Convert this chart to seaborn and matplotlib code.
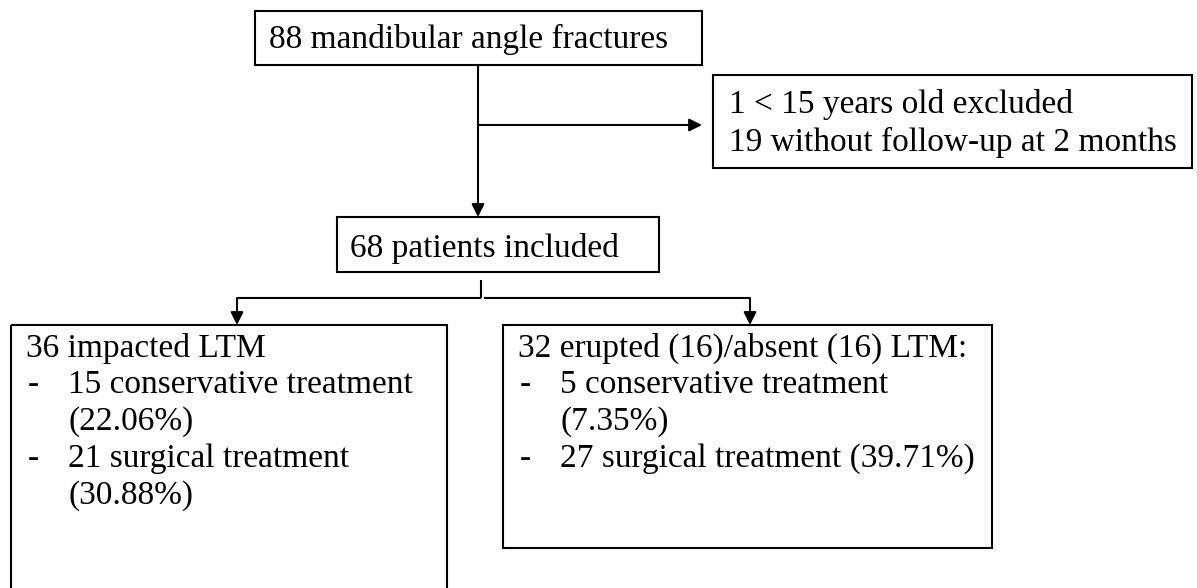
import numpy as np
import matplotlib.pyplot as plt
import seaborn as sns
from matplotlib.patches import Rectangle

# Flowchart content
top_label = "88 mandibular angle fractures"
excluded_lines = ["1 < 15 years old excluded", "19 without follow-up at 2 months"]
included_label = "68 patients included"
impacted_head = "36 impacted LTM"
impacted_items = [("-", "15 conservative treatment"),
                  ("", "(22.06%)"),
                  ("-", "21 surgical treatment"),
                  ("", "(30.88%)")]
erupted_head = "32 erupted (16)/absent (16) LTM:"
erupted_items = [("-", "5 conservative treatment"),
                 ("", "(7.35%)"),
                 ("-", "27 surgical treatment (39.71%)")]

sns.set_theme(style="white")
plt.rcParams['font.family'] = ['Liberation Serif', 'DejaVu Serif']
plt.rcParams['text.color'] = 'black'

fig = plt.figure(figsize=(11.97, 5.88), dpi=100)
ax = fig.add_axes([0, 0, 1, 1])
ax.set_xlim(0, 1197)
ax.set_ylim(588, 0)
ax.axis('off')

LW = 1.5
FS = 24
LINE_H = 37


def box(x0, y0, x1, y1):
    ax.add_patch(Rectangle((x0, y0), x1 - x0, y1 - y0, fill=False,
                           edgecolor='black', linewidth=LW))


def write(lines, x, y, step=LINE_H):
    for i, t in enumerate(lines):
        ax.text(x, y + i * step, t, fontsize=FS, ha='left', va='center',
                color='black')


def write_list(head, items, x, x_text, y):
    write([head], x, y)
    for i, (dash, t) in enumerate(items):
        yy = y + (i + 1) * LINE_H
        if dash:
            ax.text(x + 2, yy, dash, fontsize=FS, ha='left', va='center',
                    color='black')
        ax.text(x_text, yy, t, fontsize=FS, ha='left', va='center',
                color='black')


def arrow(x0, y0, x1, y1):
    ax.annotate('', xy=(x1, y1), xytext=(x0, y0),
                arrowprops=dict(arrowstyle='-|>', color='black', lw=LW,
                                mutation_scale=19, shrinkA=0, shrinkB=0))


def line(xs, ys):
    ax.plot(xs, ys, color='black', linewidth=LW, solid_capstyle='butt')


# top box
box(255, 11, 702, 65)
write([top_label], 269, 39)

# exclusion branch
line([478, 478], [65, 125])
arrow(478, 125, 702, 125)
box(713, 75, 1192, 168)
write(excluded_lines, 729, 104, step=38)

# down to included
arrow(478, 125, 478, 217)
box(337, 217, 659, 272)
write([included_label], 350, 248)

# split
line([481, 481], [280, 298])
line([237, 481], [298, 298])
line([484, 750], [298, 298])
arrow(237, 298, 237, 325)
arrow(750, 298, 750, 325)

# bottom boxes
box(11, 325, 447, 600)
write_list(impacted_head, impacted_items, 26, 68, 348)
box(503, 325, 992, 548)
write_list(erupted_head, erupted_items, 518, 560, 348)

fig.savefig('out.png', dpi=100, facecolor='white')
